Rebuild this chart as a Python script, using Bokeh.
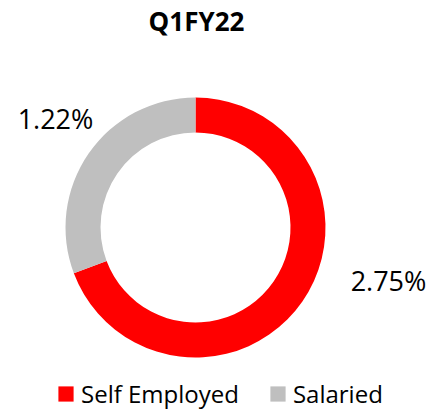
import math
from bokeh.plotting import figure
from bokeh.models import Range1d, Legend, LegendItem, ColumnDataSource
from bokeh.core.properties import value
from bokeh.embed import file_html
from bokeh.resources import INLINE

# ---- data ----
title_text = "Q1FY22"
categories = ["Self Employed", "Salaried"]
values = [2.75, 1.22]
labels = ["2.75%", "1.22%"]

# ---- styles / layout ----
colors = ["#FF0000", "#BFBFBF"]
cx, cy = 195, 183          # donut centre (data units = pixels)
r_in, r_out = 95, 130
label_pos = [(388, 130), (55, 292)]
FONT = "Open Sans"

total = sum(values)
starts, ends = [], []
cum = 0.0
for v in values:
    starts.append(math.pi / 2 - cum / total * 2 * math.pi)
    cum += v
    ends.append(math.pi / 2 - cum / total * 2 * math.pi)

src = ColumnDataSource(dict(cat=categories, val=values, start=starts, end=ends, color=colors))

p = figure(width=434, height=410, output_backend="svg", toolbar_location=None,
           x_range=Range1d(0, 434), y_range=Range1d(0, 410), min_border=0)
p.axis.visible = False
p.grid.visible = False
p.outline_line_color = None

r = p.annular_wedge(x=cx, y=cy, inner_radius=r_in, outer_radius=r_out,
                    start_angle="start", end_angle="end", direction="clock",
                    fill_color="color", line_color=None, source=src)

# title
p.text(x=[196], y=[390], text=[title_text], text_align="center", text_baseline="middle",
       text_font=value(FONT), text_font_style="bold", text_font_size="26px", text_color="#000000")

# data labels
p.text(x=[q[0] for q in label_pos], y=[q[1] for q in label_pos], text=labels,
       text_align="center", text_baseline="middle", text_font=value(FONT),
       text_font_size="27px", text_color="#000000")

legend = Legend(items=[LegendItem(label=c, renderers=[r], index=i) for i, c in enumerate(categories)],
                orientation="horizontal", location=(56, 0),
                glyph_width=19, glyph_height=19, label_standoff=6, spacing=29,
                label_text_font=FONT, label_text_font_size="24px", label_text_color="#000000",
                padding=0, margin=0, border_line_color=None, background_fill_alpha=0)
p.add_layout(legend)

open("out.html", "w").write(file_html(p, INLINE))
